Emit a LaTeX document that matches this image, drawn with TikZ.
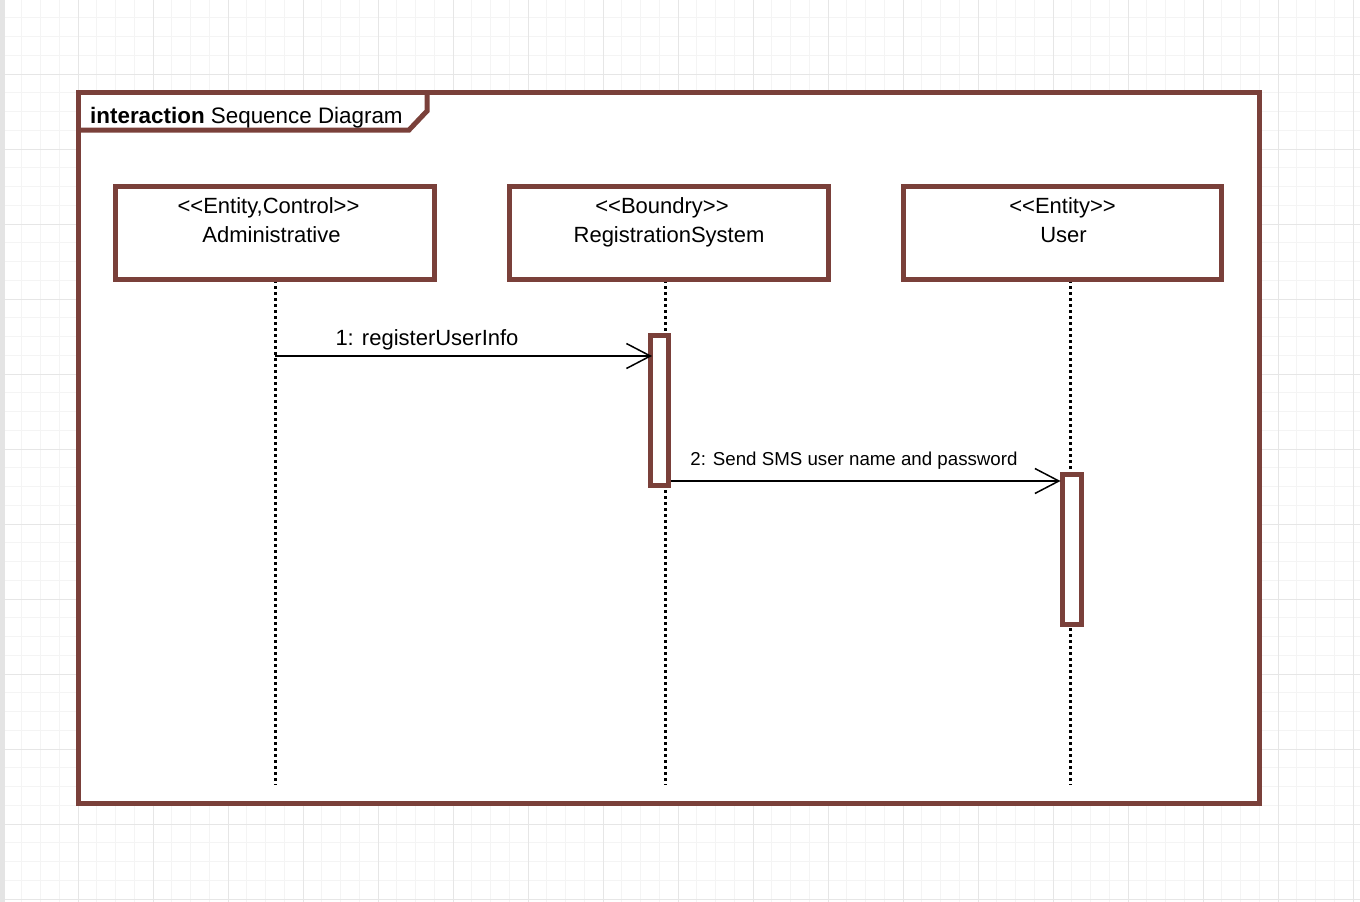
\documentclass[tikz,border=0pt]{standalone}
\usepackage{fontspec}
\setmainfont{Liberation Sans}
\usetikzlibrary{arrows.meta}
\definecolor{framec}{HTML}{7A403A}
\definecolor{gridminor}{HTML}{F4F4F4}
\definecolor{gridmajor}{HTML}{E6E6E6}
\definecolor{edgeband}{HTML}{E4E4E4}
\begin{document}
\begin{tikzpicture}[x=1pt,y=-1pt,
  framebox/.style={draw=framec, line width=5pt, fill=white, inner sep=0pt, outer sep=0pt},
  lifebox/.style={framebox, minimum width=318.5pt, minimum height=93pt},
  actbox/.style={framebox, minimum width=18.5pt},
  lifeline/.style={draw=black, line width=3pt, dash pattern=on 3pt off 3pt},
  msg/.style={draw=black, line width=1.5pt, -{Straight Barb[length=24pt,width=25pt]}},
  bigtext/.style={inner sep=0pt, font=\fontsize{22}{26}\selectfont, text=black},
  titletext/.style={inner sep=0pt, font=\fontsize{22.4}{26}\selectfont, text=black},
  smalltext/.style={inner sep=0pt, font=\fontsize{18.7}{22}\selectfont, text=black}
]
\useasboundingbox (0,0) rectangle (1360,902);
\fill[white] (0,0) rectangle (1360,902);
% grid
\foreach \i in {0,...,72} \draw[gridminor, line width=1pt] ({3+18.75*\i},0) -- ({3+18.75*\i},902);
\foreach \i in {0,...,47} \draw[gridminor, line width=1pt] (0,{17.75+18.75*\i}) -- (1360,{17.75+18.75*\i});
\foreach \i in {0,...,18} \draw[gridmajor, line width=1pt] ({3+75*\i},0) -- ({3+75*\i},902);
\foreach \i in {0,...,11} \draw[gridmajor, line width=1pt] (0,{74+75*\i}) -- (1360,{74+75*\i});
\fill[edgeband] (0,0) rectangle (4.5,902);

% frame
\node[framebox, minimum width=1180.5pt, minimum height=711.5pt] (frame) at (668.75,447.75) {};
\coordinate (tabA) at (78.5,130);
\coordinate (tabB) at (409,130);
\coordinate (tabC) at (427,111);
\coordinate (tabD) at (427,92);
\draw[draw=framec, line width=5pt, line join=miter] (tabA) -- (tabB) -- (tabC) -- (tabD);
\node[titletext, anchor=base west] (title) at (90,123) {\textbf{interaction} Sequence Diagram};

% lifeline end points
\coordinate (l1end) at (275,785);
\coordinate (l2end) at (665.5,785);
\coordinate (l3end) at (1070,785);

% boxes (positions)
\coordinate (b1c) at (274.75,232.5);
\coordinate (b2c) at (668.75,232.5);
\coordinate (b3c) at (1062.25,232.5);

% lifelines
\draw[lifeline] (275,280) -- (l1end);
\draw[lifeline] (665.5,280) -- (l2end);
\draw[lifeline] (1070,280) -- (l3end);

% lifeline heads
\node[lifebox] (adm) at (b1c) {};
\node[lifebox] (reg) at (b2c) {};
\node[lifebox] (usr) at (b3c) {};

\node[bigtext, anchor=base] (admst) at (268.5,213) {<{}<Entity,Control>{}>};
\node[bigtext, anchor=base] (admnm) at (271.5,242.5) {Administrative};
\node[bigtext, anchor=base] (regst) at (662,213) {<{}<Boundry>{}>};
\node[bigtext, anchor=base] (regnm) at (669,242.5) {RegistrationSystem};
\node[bigtext, anchor=base] (usrst) at (1062.5,213) {<{}<Entity>{}>};
\node[bigtext, anchor=base] (usrnm) at (1063.5,242.5) {User};

% activations
\node[actbox, minimum height=149.5pt] (act1) at (659.25,410.25) {};
\node[actbox, minimum height=150pt] (act2) at (1071.75,549) {};

% messages
\coordinate (m1s) at (275,356);
\draw[msg, shorten >=-2pt] (m1s) -- (m1s -| act1.west);
\node[bigtext, anchor=base] (m1l) at (427,345) {1: registerUserInfo};

\coordinate (m2y) at (0,481);
\draw[msg, shorten >=2pt] ([xshift=2.5pt]act1.east |- m2y) -- (act2.west |- m2y);
\node[smalltext, anchor=base] (m2l) at (854,465) {2: Send SMS user name and password};
\end{tikzpicture}
\end{document}
